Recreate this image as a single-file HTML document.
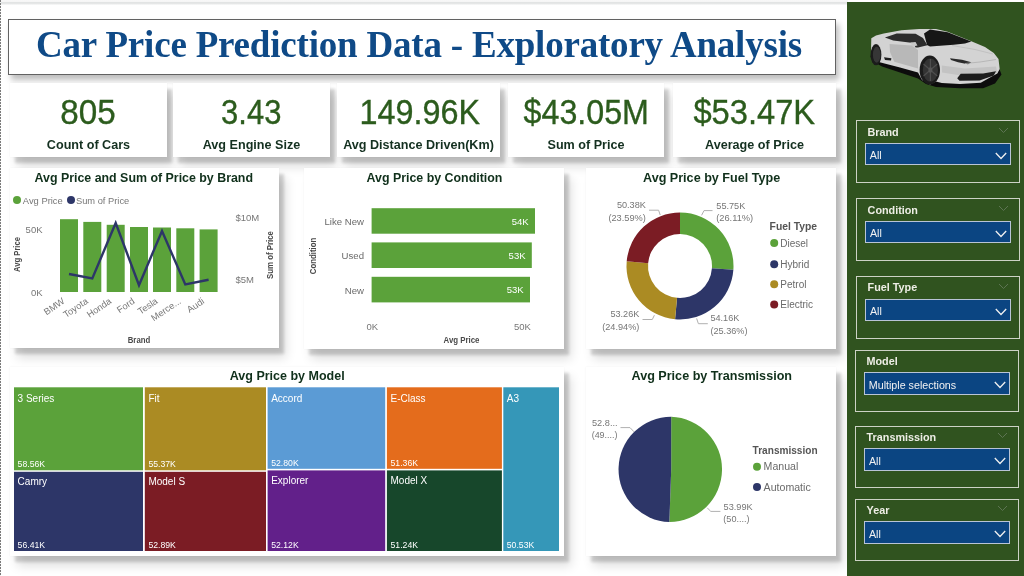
<!DOCTYPE html>
<html><head><meta charset="utf-8">
<style>
*{margin:0;padding:0;box-sizing:border-box}
html,body{width:1024px;height:576px;overflow:hidden;background:#fff}
body{position:relative;font-family:"Liberation Sans",sans-serif}
.wrap{position:absolute;left:0;top:0;width:1024px;height:576px;will-change:transform}
.a{position:absolute}
.topband{left:0;top:0;width:848px;height:5px;background:linear-gradient(#f8f8f8 0,#f6f6f6 30%,#e2e4e4 45%,#e2e4e4 65%,#fbfbfb 100%)}
.ldot{left:0;top:0;width:1px;height:576px;background:repeating-linear-gradient(#7a7a7a 0 2px,#f4f4f4 2px 3px)}
.titlebox{left:8px;top:19px;width:828px;height:56px;background:#fff;border:1.6px solid #626262;box-shadow:3px 5px 6px rgba(0,0,0,.26)}
.title{left:8px;top:19px;width:828px;height:56px;font-family:"Liberation Serif",serif;font-weight:bold;font-size:37px;letter-spacing:-0.2px;color:#0f4a87;text-align:center;line-height:52px;white-space:nowrap;padding-right:6px}
.card{background:#fff;box-shadow:5px 6px 3px rgba(0,0,0,.17),7px 10px 10px rgba(0,0,0,.13),0 0 2px rgba(0,0,0,.06)}
.kv{font-size:35px;transform:scaleX(.93);color:#2e5f1f;text-align:center;white-space:nowrap;line-height:1}
.kl{font-size:12.6px;font-weight:bold;color:#143020;text-align:center;white-space:nowrap;line-height:1}
.ct{font-size:12.3px;font-weight:bold;color:#1b3324;white-space:nowrap;line-height:1}
.side{left:847px;top:2px;width:177px;height:574px;background:#30531f}
.sl{border:1.2px solid #cdd2c6;}
.slt{color:#eeeee6;font-size:10.8px;font-weight:bold;white-space:nowrap;line-height:1}
.dd{background:#0b4582;border:1.2px solid #b9c4d6}
.ddt{color:#f2f2f2;font-size:10.7px;white-space:nowrap;line-height:1}
.lab{fill:#666;font-size:9.5px;font-family:"Liberation Sans",sans-serif}
</style></head><body>
<div class="wrap">
<div class="a topband"></div>
<div class="a ldot"></div>

<!-- Title -->
<div class="a titlebox"></div>
<div class="a title">Car Price Prediction Data - Exploratory Analysis</div>

<!-- KPI cards -->
<div class="a card" style="left:10px;top:83px;width:157px;height:74px"></div>
<div class="a card" style="left:173px;top:83px;width:157px;height:74px"></div>
<div class="a card" style="left:337px;top:83px;width:163px;height:74px"></div>
<div class="a card" style="left:508px;top:83px;width:156px;height:74px"></div>
<div class="a card" style="left:673px;top:83px;width:163px;height:74px"></div>


<div class="a kl" style="left:10px;top:139px;width:157px">Count of Cars</div>
<div class="a kl" style="left:173px;top:139px;width:157px">Avg Engine Size</div>
<div class="a kl" style="left:337px;top:139px;width:163px">Avg Distance Driven(Km)</div>
<div class="a kl" style="left:508px;top:139px;width:156px">Sum of Price</div>
<div class="a kl" style="left:673px;top:139px;width:163px">Average of Price</div>

<!-- Chart panels -->
<div class="a card" style="left:10px;top:168px;width:269px;height:180px"></div>
<div class="a card" style="left:304px;top:168px;width:260px;height:181px"></div>
<div class="a card" style="left:586px;top:168px;width:250px;height:181px"></div>
<div class="a card" style="left:10px;top:367px;width:554px;height:188.5px"></div>
<div class="a card" style="left:586px;top:367px;width:250px;height:189px"></div>

<svg class="a" style="left:0;top:0" width="1024" height="576" viewBox="0 0 1024 576" font-family="Liberation Sans, sans-serif">
<!-- KPI values -->
<g font-size="34.5" fill="#2c5c1d" stroke="#2c5c1d" stroke-width="0.35">
<text x="60.3" y="124.4" textLength="55.4" lengthAdjust="spacingAndGlyphs">805</text>
<text x="221.1" y="124.4" textLength="60.3" lengthAdjust="spacingAndGlyphs">3.43</text>
<text x="359.6" y="124.4" textLength="120.5" lengthAdjust="spacingAndGlyphs">149.96K</text>
<text x="523.6" y="124.4" textLength="125.3" lengthAdjust="spacingAndGlyphs">$43.05M</text>
<text x="693.4" y="124.4" textLength="121.8" lengthAdjust="spacingAndGlyphs">$53.47K</text>
</g>
<!-- Chart 1 -->
<text x="34.5" y="181.5" font-size="12.4" font-weight="bold" fill="#10301b">Avg Price and Sum of Price by Brand</text>
<circle cx="17" cy="200" r="4" fill="#5ba23a"/>
<text x="22.8" y="203.6" font-size="9.4" fill="#777">Avg Price</text>
<circle cx="71" cy="200" r="4" fill="#2d3668"/>
<text x="76" y="203.6" font-size="9.3" fill="#777">Sum of Price</text>
<g fill="#5ba23a">
<rect x="60" y="219.2" width="18" height="72.8"/>
<rect x="83.3" y="221.9" width="18" height="70.1"/>
<rect x="106.7" y="224.8" width="18" height="67.2"/>
<rect x="130" y="227" width="18" height="65"/>
<rect x="153" y="227.5" width="18" height="64.5"/>
<rect x="176.3" y="228.3" width="18" height="63.7"/>
<rect x="199.6" y="229.4" width="18" height="62.6"/>
</g>
<polyline points="69,274 92.3,278.4 115.7,223 139,285.2 162,231 185.3,284.4 208.6,279.7" fill="none" stroke="#2d3668" stroke-width="2.4" stroke-linejoin="miter"/>
<g font-size="9.5" fill="#777">
<text x="42.5" y="233.4" text-anchor="end">50K</text>
<text x="42.5" y="295.8" text-anchor="end">0K</text>
<text x="235.5" y="221.3">$10M</text>
<text x="235.5" y="283.2">$5M</text>
</g>
<text transform="translate(20,254.5) rotate(-90)" text-anchor="middle" font-size="8.5" font-weight="bold" fill="#4a4a4a" textLength="35" lengthAdjust="spacingAndGlyphs">Avg Price</text>
<text transform="translate(273,255) rotate(-90)" text-anchor="middle" font-size="8.5" font-weight="bold" fill="#4a4a4a" textLength="48" lengthAdjust="spacingAndGlyphs">Sum of Price</text>
<g font-size="9.3" fill="#777" text-anchor="end">
<text transform="translate(65.4,302.7) rotate(-34)">BMW</text>
<text transform="translate(88.7,302.7) rotate(-34)">Toyota</text>
<text transform="translate(112.1,302.7) rotate(-34)">Honda</text>
<text transform="translate(135.4,302.7) rotate(-34)">Ford</text>
<text transform="translate(158.4,302.7) rotate(-34)">Tesla</text>
<text transform="translate(181.7,302.7) rotate(-34)">Merce...</text>
<text transform="translate(205.0,302.7) rotate(-34)">Audi</text>
</g>
<text x="139" y="342.5" text-anchor="middle" font-size="8.6" font-weight="bold" fill="#4a4a4a" textLength="22.5" lengthAdjust="spacingAndGlyphs">Brand</text>

<!-- Chart 2 -->
<text x="366.5" y="181.7" font-size="12.4" font-weight="bold" fill="#10301b">Avg Price by Condition</text>
<g fill="#5ba23a">
<rect x="371.6" y="208.2" width="163.4" height="25.5"/>
<rect x="371.6" y="242.4" width="160.2" height="25.6"/>
<rect x="371.6" y="276.8" width="158.4" height="25.6"/>
</g>
<g font-size="9.5" fill="#fff" text-anchor="end">
<text x="528.7" y="224.5">54K</text>
<text x="525.5" y="258.7">53K</text>
<text x="523.7" y="293">53K</text>
</g>
<g font-size="9.6" fill="#6a6a6a" text-anchor="end">
<text x="364" y="224.8">Like New</text>
<text x="364" y="258.9">Used</text>
<text x="364" y="293.5">New</text>
</g>
<text transform="translate(315.5,256) rotate(-90)" text-anchor="middle" font-size="8.5" font-weight="bold" fill="#4a4a4a" textLength="36.5" lengthAdjust="spacingAndGlyphs">Condition</text>
<g font-size="9.5" fill="#777" text-anchor="middle">
<text x="372.2" y="330.2">0K</text>
<text x="522.4" y="329.6">50K</text>
</g>
<text x="461.5" y="342.8" text-anchor="middle" font-size="8.6" font-weight="bold" fill="#4a4a4a" textLength="36" lengthAdjust="spacingAndGlyphs">Avg Price</text>

<!-- Chart 3 donut -->
<text x="643" y="181.7" font-size="12.6" font-weight="bold" fill="#10301b">Avg Price by Fuel Type</text>
<path d="M680.00,212.50 A53.5,53.5 0 0 1 733.37,269.73 L711.92,268.23 A32,32 0 0 0 680.00,234.00 Z" fill="#5ba23a"/>
<path d="M733.37,269.73 A53.5,53.5 0 0 1 675.07,319.27 L677.05,297.86 A32,32 0 0 0 711.92,268.23 Z" fill="#2d3668"/>
<path d="M675.07,319.27 A53.5,53.5 0 0 1 626.71,261.27 L648.13,263.17 A32,32 0 0 0 677.05,297.86 Z" fill="#ab8b23"/>
<path d="M626.71,261.27 A53.5,53.5 0 0 1 680.00,212.50 L680.00,234.00 A32,32 0 0 0 648.13,263.17 Z" fill="#7b1c24"/>
<g fill="none" stroke="#b0b0b0" stroke-width="1">
<polyline points="649,210.2 658.6,210.2 660.2,215"/>
<polyline points="712.5,210.6 704,210.6 701.6,215.3"/>
<polyline points="642.5,319.5 652.3,319.5 654.4,315.2"/>
<polyline points="707.8,323.7 698.4,323.7 696.6,318.4"/>
</g>
<g font-size="9.6" fill="#767676">
<text x="616.9" y="208.4" textLength="29.00" lengthAdjust="spacingAndGlyphs">50.38K</text>
<text x="608.4" y="220.9" textLength="37.50" lengthAdjust="spacingAndGlyphs">(23.59%)</text>
<text x="716.3" y="208.7" textLength="29.00" lengthAdjust="spacingAndGlyphs">55.75K</text>
<text x="716.2" y="221.2" textLength="37.00" lengthAdjust="spacingAndGlyphs">(26.11%)</text>
<text x="610.4" y="316.9" textLength="28.95" lengthAdjust="spacingAndGlyphs">53.26K</text>
<text x="602.2" y="329.6" textLength="37.15" lengthAdjust="spacingAndGlyphs">(24.94%)</text>
<text x="710.4" y="321.1" textLength="28.95" lengthAdjust="spacingAndGlyphs">54.16K</text>
<text x="710.4" y="333.6" textLength="37.10" lengthAdjust="spacingAndGlyphs">(25.36%)</text>
</g>
<text x="769.6" y="230.1" font-size="10.6" font-weight="bold" fill="#555" textLength="47.5" lengthAdjust="spacingAndGlyphs">Fuel Type</text>
<circle cx="774.2" cy="243" r="4" fill="#5ba23a"/>
<circle cx="774.2" cy="264.2" r="4" fill="#2d3668"/>
<circle cx="774.2" cy="284.2" r="4" fill="#ab8b23"/>
<circle cx="774.2" cy="304.4" r="4" fill="#7b1c24"/>
<g font-size="10" fill="#6a6a6a">
<text x="780.3" y="246.6">Diesel</text>
<text x="780.3" y="267.8">Hybrid</text>
<text x="780.3" y="287.8">Petrol</text>
<text x="780.3" y="308">Electric</text>
</g>

<!-- Chart 4 treemap -->
<text x="229.8" y="380.3" font-size="12.5" font-weight="bold" fill="#10301b">Avg Price by Model</text>
<rect x="14" y="387.3" width="129" height="83" fill="#5ba23a"/>
<rect x="144.8" y="387.3" width="121.2" height="83" fill="#ab8b23"/>
<rect x="267.6" y="387.3" width="117.6" height="81.5" fill="#5b9bd5"/>
<rect x="386.9" y="387.3" width="115" height="81.5" fill="#e46c1c"/>
<rect x="14" y="471.8" width="129" height="79.2" fill="#2d3668"/>
<rect x="144.8" y="471.8" width="121.2" height="79.2" fill="#7b1c24"/>
<rect x="267.6" y="470.4" width="117.6" height="80.6" fill="#62208a"/>
<rect x="386.9" y="470.4" width="115" height="80.6" fill="#17472b"/>
<rect x="503.3" y="387.3" width="55.7" height="163.7" fill="#3597b8"/>
<g font-size="10" fill="#fff">
<text x="17.6" y="401.7">3 Series</text>
<text x="148.4" y="401.7">Fit</text>
<text x="271.2" y="401.7">Accord</text>
<text x="390.5" y="401.7">E-Class</text>
<text x="506.8" y="401.7">A3</text>
<text x="17.6" y="485.3">Camry</text>
<text x="148.4" y="485.3">Model S</text>
<text x="271.2" y="484">Explorer</text>
<text x="390.5" y="484">Model X</text>
</g>
<g font-size="9.6" fill="#fff">
<text x="17.6" y="466.8" textLength="27.5" lengthAdjust="spacingAndGlyphs">58.56K</text>
<text x="148.4" y="466.8" textLength="27.5" lengthAdjust="spacingAndGlyphs">55.37K</text>
<text x="271.2" y="465.5" textLength="27.5" lengthAdjust="spacingAndGlyphs">52.80K</text>
<text x="390.5" y="465.5" textLength="27.5" lengthAdjust="spacingAndGlyphs">51.36K</text>
<text x="17.6" y="547.7" textLength="27.5" lengthAdjust="spacingAndGlyphs">56.41K</text>
<text x="148.4" y="547.7" textLength="27.5" lengthAdjust="spacingAndGlyphs">52.89K</text>
<text x="271.2" y="547.7" textLength="27.5" lengthAdjust="spacingAndGlyphs">52.12K</text>
<text x="390.5" y="547.7" textLength="27.5" lengthAdjust="spacingAndGlyphs">51.24K</text>
<text x="506.8" y="547.7" textLength="27.5" lengthAdjust="spacingAndGlyphs">50.53K</text>
</g>

<!-- Chart 5 pie -->
<text x="631.5" y="379.8" font-size="12.6" font-weight="bold" fill="#10301b">Avg Price by Transmission</text>
<path d="M671.2,469.4 L671.2,416.80 A52.6,52.6 0 0 1 669.36,521.97 Z" fill="#5ba23a"/>
<path d="M671.2,469.4 L669.36,521.97 A52.6,52.6 0 0 1 671.2,416.80 Z" fill="#2d3668"/>
<g fill="none" stroke="#b0b0b0" stroke-width="1">
<polyline points="620.5,427.6 630,427.6 634,431.8"/>
<polyline points="720.4,511.4 710.8,511.4 707.2,507.8"/>
</g>
<g font-size="9.6" fill="#767676">
<text x="592.0" y="425.9" textLength="25.60" lengthAdjust="spacingAndGlyphs">52.8...</text>
<text x="591.7" y="438.3" textLength="25.80" lengthAdjust="spacingAndGlyphs">(49....)</text>
<text x="723.6" y="509.7" textLength="29.10" lengthAdjust="spacingAndGlyphs">53.99K</text>
<text x="723.3" y="522" textLength="26.30" lengthAdjust="spacingAndGlyphs">(50....)</text>
</g>
<text x="752.6" y="453.8" font-size="10.8" font-weight="bold" fill="#555" textLength="65" lengthAdjust="spacingAndGlyphs">Transmission</text>
<circle cx="757" cy="466.7" r="4" fill="#5ba23a"/>
<circle cx="757" cy="487" r="4" fill="#2d3668"/>
<g font-size="10.6" fill="#6a6a6a">
<text x="763.6" y="470.4">Manual</text>
<text x="763.6" y="490.7">Automatic</text>
</g>
</svg>


<!-- Sidebar -->
<div class="a side"></div>
<!--SIDEBAR-->
<svg class="a" style="left:866px;top:24px" width="140" height="68" viewBox="866 24 140 68">
<polygon points="870.5,57 874,62 882,66.5 918,78.5 926,84 936,87 960,88.3 983.1,88.3 995,83.5 1001.5,74.5 999,68 940,72 900,60 872,50" fill="#0c0c0c"/>
<polygon points="871.3,38.2 876,35.5 883.7,33.5 901.4,30.2 919.1,29 936,29.1 947.7,31.8 971.3,41.2 985,47 993.8,53 998.5,59 999.7,68.9 997.3,73.6 990,77.5 980.8,82.8 960,84 941.8,83 936,81.5 930,84.5 922,80 918,72.4 900,67.5 877.8,61.8 872,58 871,50" fill="#d3d3d3"/>
<polygon points="889.6,44.1 912,45.5 918,50 918,68.5 894.3,61.8 890,52" fill="#b8b8b8"/>
<polygon points="941.8,65.5 965,68.5 996,66.5 997.5,73 980,75 958,75 942,72.5" fill="#c3c3c3"/>
<polygon points="924,33.6 930,29.6 947.7,32.3 971.3,41.4 965,43.5 953.6,44.7 930,46.4 927,45" fill="#161616"/>
<polygon points="884.9,37.6 896.7,33.4 915.6,33.8 923,38 927.4,45.3 918,47.6 915.6,47.6 913.2,43 893.2,40.5" fill="#2c2c2c"/>
<polygon points="910.5,42.5 915.5,42 917.5,45.5 912.5,46.5" fill="#c8c8c8"/>
<polygon points="950,58.2 962,59.8 971.3,62.3 968,64.2 958,62.2 951,60" fill="#2a2a2a"/>
<polygon points="957.2,78.3 960.7,73.8 983.1,73.6 996,71.2 993.8,75.5 979.6,80.5 959.5,80.7" fill="#1c1c1c"/>
<polygon points="884,57.3 891.4,58.3 891,60.5 885,60" fill="#1e1e1e"/>
<polyline points="952,45.5 975,49.5 993,54" fill="none" stroke="#bcbcbc" stroke-width="0.8"/>
<polyline points="965,63.5 980,62 996,59.5" fill="none" stroke="#b0b0b0" stroke-width="0.8"/>
<ellipse cx="876" cy="54.7" rx="5.4" ry="10.6" fill="#1b1b1b"/>
<ellipse cx="876.7" cy="54.7" rx="3.8" ry="8" fill="#363636"/>
<ellipse cx="929.8" cy="70" rx="10.2" ry="14.6" fill="#1b1b1b"/>
<ellipse cx="930.4" cy="70" rx="7.6" ry="11.6" fill="#333"/>
<g stroke="#4e4e4e" stroke-width="1.2">
<line x1="930.4" y1="59" x2="930.4" y2="81"/>
<line x1="923.5" y1="64" x2="937.3" y2="76"/>
<line x1="923.5" y1="76" x2="937.3" y2="64"/>
</g>
<ellipse cx="930.4" cy="70" rx="2" ry="2.8" fill="#555"/>
</svg>
<div class="a sl" style="left:856.2px;top:120.3px;width:163.4px;height:62.5px"></div>
<div class="a slt" style="left:867.5px;top:126.5px">Brand</div>
<svg class="a" style="left:998.2px;top:127.1px" width="11" height="7" viewBox="0 0 11 7"><polyline points="1,1 5.5,5.5 10,1" fill="none" stroke="#5d7453" stroke-width="1"/></svg>
<div class="a dd" style="left:865.2px;top:143.1px;width:146.0px;height:22.3px"></div>
<div class="a ddt" style="left:869.8px;top:150.3px">All</div>
<svg class="a" style="left:995.2px;top:151.8px" width="12" height="8" viewBox="0 0 12 8"><polyline points="0.8,1 6,6.5 11.2,1" fill="none" stroke="#f0f0f0" stroke-width="1.3"/></svg>
<div class="a sl" style="left:856.3px;top:198.3px;width:163.4px;height:62.5px"></div>
<div class="a slt" style="left:867.6px;top:204.5px">Condition</div>
<svg class="a" style="left:998.3px;top:205.1px" width="11" height="7" viewBox="0 0 11 7"><polyline points="1,1 5.5,5.5 10,1" fill="none" stroke="#5d7453" stroke-width="1"/></svg>
<div class="a dd" style="left:865.3px;top:221.1px;width:146.0px;height:22.3px"></div>
<div class="a ddt" style="left:869.9px;top:228.3px">All</div>
<svg class="a" style="left:995.3px;top:229.8px" width="12" height="8" viewBox="0 0 12 8"><polyline points="0.8,1 6,6.5 11.2,1" fill="none" stroke="#f0f0f0" stroke-width="1.3"/></svg>
<div class="a sl" style="left:856.3px;top:276.1px;width:163.4px;height:62.5px"></div>
<div class="a slt" style="left:867.6px;top:282.3px">Fuel Type</div>
<svg class="a" style="left:998.3px;top:282.9px" width="11" height="7" viewBox="0 0 11 7"><polyline points="1,1 5.5,5.5 10,1" fill="none" stroke="#5d7453" stroke-width="1"/></svg>
<div class="a dd" style="left:865.3px;top:298.9px;width:146.0px;height:22.3px"></div>
<div class="a ddt" style="left:869.9px;top:306.1px">All</div>
<svg class="a" style="left:995.3px;top:307.6px" width="12" height="8" viewBox="0 0 12 8"><polyline points="0.8,1 6,6.5 11.2,1" fill="none" stroke="#f0f0f0" stroke-width="1.3"/></svg>
<div class="a sl" style="left:855.2px;top:349.5px;width:163.4px;height:62.5px"></div>
<div class="a slt" style="left:866.5px;top:355.7px">Model</div>
<div class="a dd" style="left:864.2px;top:372.3px;width:146.0px;height:22.3px"></div>
<div class="a ddt" style="left:868.8px;top:379.5px">Multiple selections</div>
<svg class="a" style="left:994.2px;top:381.0px" width="12" height="8" viewBox="0 0 12 8"><polyline points="0.8,1 6,6.5 11.2,1" fill="none" stroke="#f0f0f0" stroke-width="1.3"/></svg>
<div class="a sl" style="left:855.3px;top:425.5px;width:163.3px;height:62.5px"></div>
<div class="a slt" style="left:866.6px;top:431.7px">Transmission</div>
<svg class="a" style="left:997.3px;top:432.3px" width="11" height="7" viewBox="0 0 11 7"><polyline points="1,1 5.5,5.5 10,1" fill="none" stroke="#5d7453" stroke-width="1"/></svg>
<div class="a dd" style="left:864.3px;top:448.3px;width:146.0px;height:22.3px"></div>
<div class="a ddt" style="left:868.9px;top:455.5px">All</div>
<svg class="a" style="left:994.3px;top:457.0px" width="12" height="8" viewBox="0 0 12 8"><polyline points="0.8,1 6,6.5 11.2,1" fill="none" stroke="#f0f0f0" stroke-width="1.3"/></svg>
<div class="a sl" style="left:855.3px;top:498.6px;width:163.3px;height:62.5px"></div>
<div class="a slt" style="left:866.6px;top:504.8px">Year</div>
<svg class="a" style="left:997.3px;top:505.4px" width="11" height="7" viewBox="0 0 11 7"><polyline points="1,1 5.5,5.5 10,1" fill="none" stroke="#5d7453" stroke-width="1"/></svg>
<div class="a dd" style="left:864.3px;top:521.4px;width:146.0px;height:22.3px"></div>
<div class="a ddt" style="left:868.9px;top:528.6px">All</div>
<svg class="a" style="left:994.3px;top:530.1px" width="12" height="8" viewBox="0 0 12 8"><polyline points="0.8,1 6,6.5 11.2,1" fill="none" stroke="#f0f0f0" stroke-width="1.3"/></svg>
<!--/SIDEBAR-->

</div>
</body></html>
